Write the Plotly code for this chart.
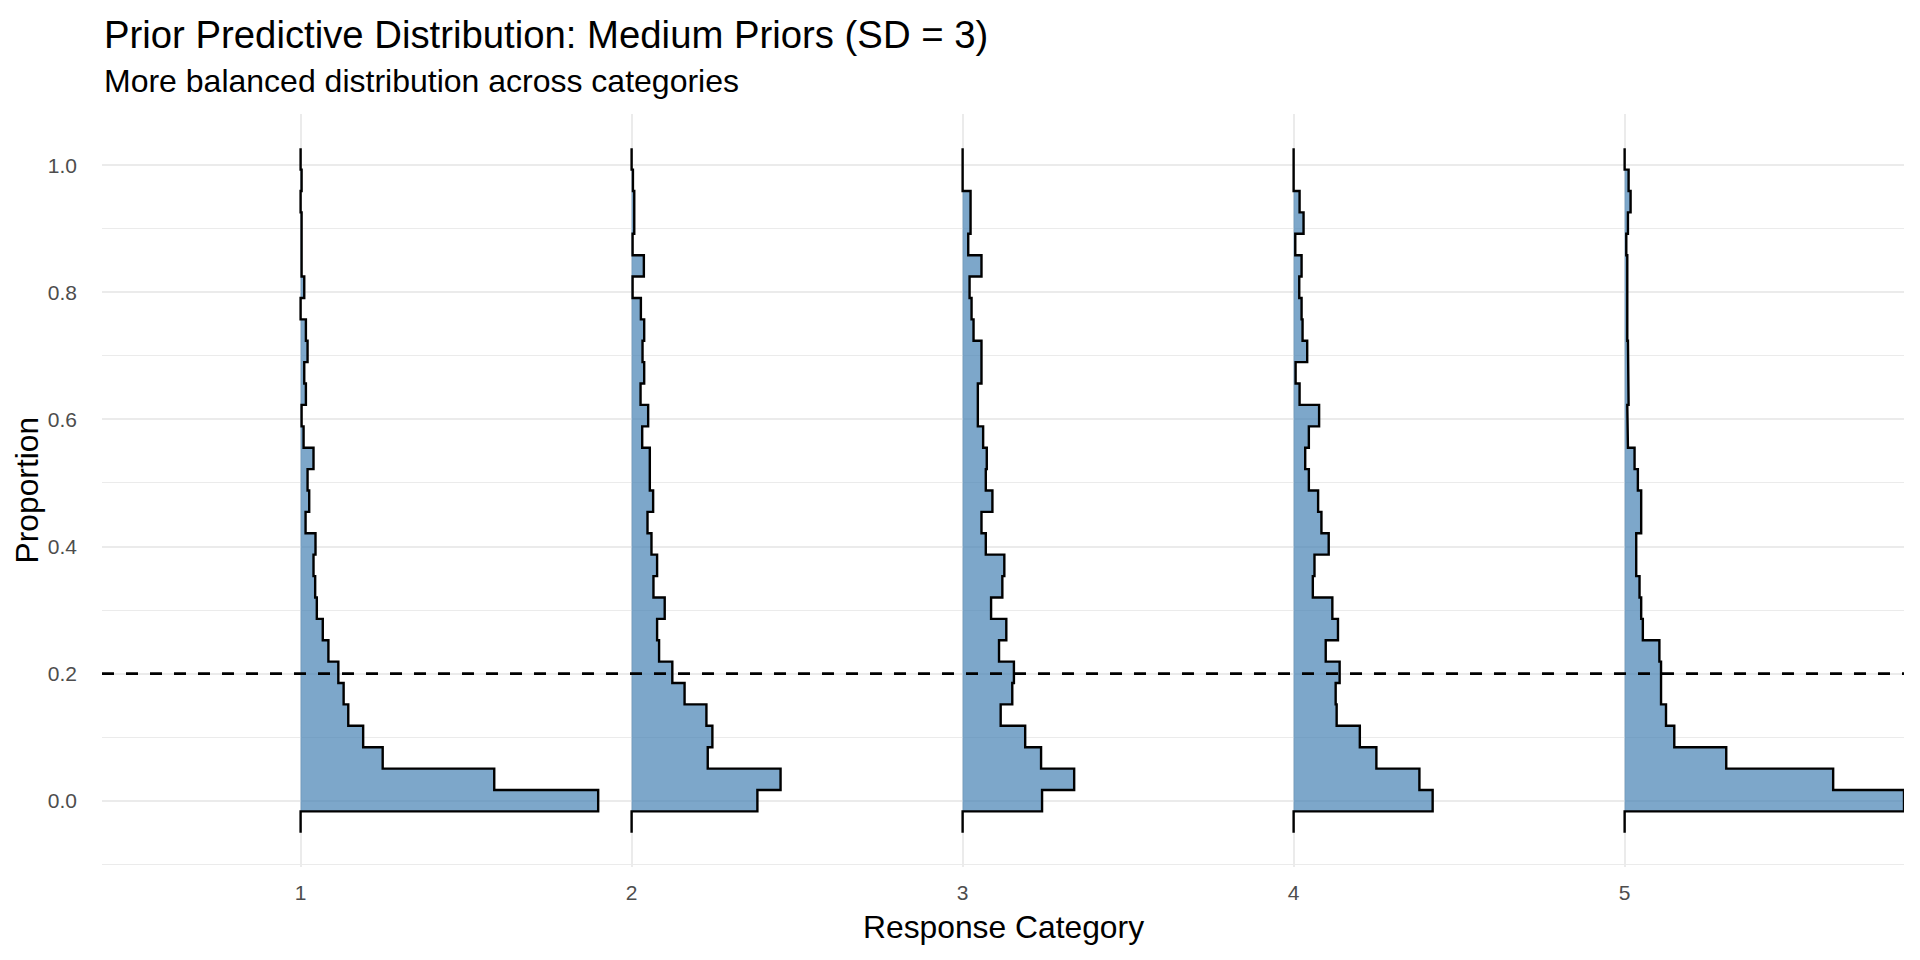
import plotly.graph_objects as go

categories = [1, 2, 3, 4, 5]
tick_labels = ["1", "2", "3", "4", "5"]

# histogram break points (proportion axis), bottom to top
bin_edges = [-0.0504, -0.0167, 0.0169, 0.0506, 0.0842, 0.1179, 0.1516, 0.1852,
             0.2189, 0.2525, 0.2862, 0.3199, 0.3535, 0.3872, 0.4208, 0.4545,
             0.4882, 0.5218, 0.5555, 0.5891, 0.6228, 0.6565, 0.6901, 0.7238,
             0.7574, 0.7911, 0.8248, 0.8584, 0.8921, 0.9257, 0.9594, 0.9931, 1.0267]

# scaled bin heights (slab thickness) per response category, bottom bin first
cat1 = [0, 0.899, 0.585, 0.248, 0.189, 0.144, 0.130, 0.114, 0.084, 0.067, 0.049,
        0.044, 0.039, 0.045, 0.015, 0.026, 0.021, 0.039, 0.009, 0.003, 0.016,
        0.011, 0.021, 0.016, 0.0, 0.011, 0.003, 0.003, 0.003, 0.0, 0.003, 0.0]
cat2 = [0, 0.380, 0.450, 0.230, 0.244, 0.226, 0.160, 0.123, 0.083, 0.077, 0.100,
        0.066, 0.077, 0.060, 0.048, 0.065, 0.055, 0.055, 0.032, 0.050, 0.027,
        0.038, 0.033, 0.038, 0.028, 0.003, 0.037, 0.003, 0.008, 0.008, 0.004, 0.0]
cat3 = [0, 0.240, 0.337, 0.237, 0.189, 0.115, 0.150, 0.155, 0.110, 0.132, 0.086,
        0.120, 0.126, 0.070, 0.057, 0.090, 0.070, 0.073, 0.062, 0.046, 0.046,
        0.057, 0.057, 0.033, 0.027, 0.021, 0.057, 0.017, 0.024, 0.024, 0.0, 0.0]
cat4 = [0, 0.420, 0.380, 0.250, 0.200, 0.130, 0.127, 0.139, 0.097, 0.134, 0.117,
        0.058, 0.063, 0.106, 0.084, 0.074, 0.046, 0.035, 0.046, 0.077, 0.018,
        0.006, 0.041, 0.027, 0.024, 0.017, 0.024, 0.005, 0.030, 0.018, 0.0, 0.0]
cat5 = [0, 0.844, 0.630, 0.307, 0.150, 0.125, 0.110, 0.110, 0.105, 0.055, 0.050,
        0.045, 0.035, 0.035, 0.050, 0.050, 0.040, 0.030, 0.010, 0.008, 0.012,
        0.012, 0.010, 0.008, 0.010, 0.010, 0.008, 0.005, 0.010, 0.018, 0.012, 0.0]
slabs = [cat1, cat2, cat3, cat4, cat5]

reference_line = 0.2
y_ticks = [0.0, 0.2, 0.4, 0.6, 0.8, 1.0]
y_minor = [-0.1, 0.1, 0.3, 0.5, 0.7, 0.9]

FONT = "Liberation Sans, Arial, Helvetica, sans-serif"
FILL = "rgba(70,130,180,0.7)"
GRID = "#EBEBEB"

fig = go.Figure()
xmax = 0
for c, vals in zip(categories, slabs):
    xs, ys = [c], [bin_edges[0]]
    for k, v in enumerate(vals):
        xs += [c + v, c + v]
        ys += [bin_edges[k], bin_edges[k + 1]]
        xmax = max(xmax, c + v)
    xs.append(c)
    ys.append(bin_edges[-1])
    fig.add_trace(go.Scatter(x=xs + [c], y=ys + [bin_edges[0]], mode="lines",
                             fill="toself", fillcolor=FILL, line=dict(width=0),
                             hoverinfo="skip", showlegend=False))
    fig.add_trace(go.Scatter(x=xs, y=ys, mode="lines",
                             line=dict(color="black", width=2.4, shape="linear"),
                             hoverinfo="skip", showlegend=False))

span = bin_edges[-1] - bin_edges[0]
yr = [bin_edges[0] - 0.05 * span, bin_edges[-1] + 0.05 * span]

fig.add_shape(type="line", xref="paper", x0=0, x1=1, yref="y",
              y0=reference_line, y1=reference_line, layer="above",
              line=dict(color="black", width=2.6, dash="12px,12px"))

PH = 753  # plot height in px
PW = 1802  # plot width in px

fig.update_layout(
    width=1904, height=944,
    margin=dict(l=94, r=8, t=106, b=85),
    paper_bgcolor="white", plot_bgcolor="white",
    font=dict(family=FONT, color="black"),
    xaxis=dict(range=[0.4, xmax], tickmode="array", tickvals=categories,
               ticktext=tick_labels, showgrid=True, gridcolor=GRID, gridwidth=2.2,
               zeroline=False, showline=False, ticks="",
               tickfont=dict(size=21, color="#4D4D4D", family=FONT),
               ticklabelstandoff=11),
    yaxis=dict(range=yr, tickmode="array", tickvals=y_ticks,
               ticktext=[f"{v:.1f}" for v in y_ticks],
               showgrid=True, gridcolor=GRID, gridwidth=2.2,
               minor=dict(tickmode="array", tickvals=y_minor, showgrid=True,
                          gridcolor=GRID, gridwidth=1.1, ticks=""),
               zeroline=False, showline=False, ticks="",
               tickfont=dict(size=21, color="#4D4D4D", family=FONT),
               ticklabelstandoff=24),
    annotations=[
        dict(text="Prior Predictive Distribution: Medium Priors (SD = 3)",
             xref="paper", yref="paper", x=0, y=1 + 80 / PH, xanchor="left",
             yanchor="middle", showarrow=False, font=dict(size=38.3, family=FONT)),
        dict(text="More balanced distribution across categories",
             xref="paper", yref="paper", x=0, y=1 + 33 / PH, xanchor="left",
             yanchor="middle", showarrow=False, font=dict(size=32, family=FONT)),
        dict(text="Response Category", xref="paper", yref="paper", x=0.5,
             y=-60 / PH, xanchor="center", yanchor="middle", showarrow=False,
             font=dict(size=31.8, family=FONT)),
        dict(text="Proportion", xref="paper", yref="paper", x=-76 / PW,
             y=0.5, xanchor="center", yanchor="middle", textangle=-90,
             showarrow=False, font=dict(size=31.8, family=FONT)),
    ],
)

fig.write_html("out.html")
